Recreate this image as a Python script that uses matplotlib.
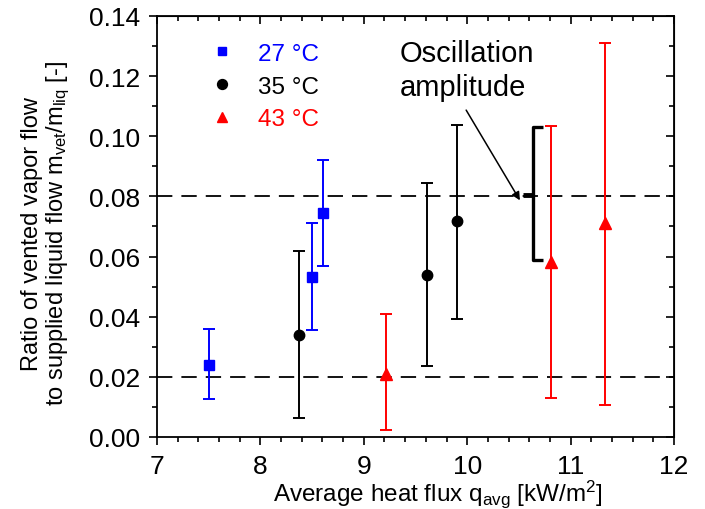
import numpy as np
import matplotlib
matplotlib.use('Agg')
import matplotlib.pyplot as plt
from matplotlib.lines import Line2D

plt.rcParams['font.family'] = ['Liberation Sans', 'DejaVu Sans']
plt.rcParams['mathtext.default'] = 'regular'

# data (value, lower and upper end of error bar)
labels = ['27 \u00b0C', '35 \u00b0C', '43 \u00b0C']
colors = ['#0000ff', '#000000', '#ff0000']
markers = ['s', 'o', '^']

x_27 = [7.50, 8.50, 8.61]
y_27 = [0.0241, 0.0533, 0.0746]
lo_27 = [0.0126, 0.0355, 0.0569]
hi_27 = [0.0360, 0.0710, 0.0922]

x_35 = [8.37, 9.61, 9.90]
y_35 = [0.0340, 0.0539, 0.0717]
lo_35 = [0.0064, 0.0236, 0.0394]
hi_35 = [0.0619, 0.0843, 0.1038]

x_43 = [9.21, 10.81, 11.33]
y_43 = [0.0211, 0.0583, 0.0712]
lo_43 = [0.0022, 0.0131, 0.0108]
hi_43 = [0.0408, 0.1034, 0.1311]

ref_levels = [0.02, 0.08]

# bracket marking the oscillation amplitude of the 10.8 point
bracket_x = 10.64
bracket_lo = 0.059
bracket_hi = 0.103

fig = plt.figure(figsize=(7.05, 5.1), dpi=100)
ax = fig.add_axes([0.2227, 0.1412, 0.7333, 0.8255])

# horizontal dashed reference lines
for lvl in ref_levels:
    ax.axhline(lvl, color='black', lw=1.3, ls=(0, (8.5, 5)), zorder=1)

series = [(x_27, y_27, lo_27, hi_27), (x_35, y_35, lo_35, hi_35), (x_43, y_43, lo_43, hi_43)]
msizes = [6.5, 7.5, 8]
for (xs, ys, lo, hi), c, m, ms in zip(series, colors, markers, msizes):
    ys = np.array(ys)
    yerr = [ys - np.array(lo), np.array(hi) - ys]
    ax.errorbar(xs, ys, yerr=yerr, fmt=m, color=c, ms=ms, elinewidth=1.4,
                capsize=4, capthick=1.4, zorder=3)

# bracket "[" with a nub at 0.08
hook = 0.09
ax.plot([bracket_x + hook, bracket_x, bracket_x, bracket_x + hook],
        [bracket_hi, bracket_hi, bracket_lo, bracket_lo],
        color='black', lw=2.4, solid_joinstyle='round', solid_capstyle='butt', zorder=4)
ax.plot([bracket_x - 0.1, bracket_x], [0.0805, 0.0805], color='black', lw=3.5,
        solid_capstyle='butt', zorder=4)
ax.annotate('', xy=(10.51, 0.0787), xytext=(9.99, 0.1087),
            arrowprops=dict(arrowstyle='-|>', color='black', lw=1.1,
                            mutation_scale=12, shrinkA=0, shrinkB=0))
ax.text(9.345, 0.1325, 'Oscillation\namplitude', fontsize=21, va='top', ha='left',
        linespacing=1.3)

ax.set_xlim(7, 12)
ax.set_ylim(0, 0.14)
ax.set_xticks(np.arange(7, 12.01, 1))
ax.set_yticks(np.arange(0, 0.1401, 0.02))
ax.set_yticklabels(['%.2f' % v for v in np.arange(0, 0.1401, 0.02)])
ax.set_xticks(np.arange(7, 12.01, 0.2), minor=True)
ax.set_yticks(np.arange(0, 0.1401, 0.01), minor=True)
ax.tick_params(which='both', direction='out', labelsize=19, width=1.2)
ax.tick_params(which='major', length=6, pad=6)
ax.tick_params(which='minor', length=3.5)
for s in ax.spines.values():
    s.set_linewidth(1.3)

# mirrored ticks pointing inward on top and right
top = ax.secondary_xaxis('top')
top.set_xticks(np.arange(7, 12.01, 1))
top.set_xticks(np.arange(7, 12.01, 0.2), minor=True)
top.tick_params(which='both', direction='in', labeltop=False, width=1.2)
top.tick_params(which='major', length=6)
top.tick_params(which='minor', length=3.5)
right = ax.secondary_yaxis('right')
right.set_yticks(np.arange(0, 0.1401, 0.02))
right.set_yticks(np.arange(0, 0.1401, 0.01), minor=True)
right.tick_params(which='both', direction='in', labelright=False, width=1.2)
right.tick_params(which='major', length=6)
right.tick_params(which='minor', length=3.5)

ax.set_xlabel('Average heat flux q$_{avg}$ [kW/m$^2$]', fontsize=17.5, labelpad=0)
ax.xaxis.label.set_x(0.543)
ax.set_ylabel('Ratio of vented vapor flow\nto supplied liquid flow m$_{vet}$/m$_{liq}$ [-]',
              fontsize=17, labelpad=12, linespacing=1.1)
ax.yaxis.label.set_y(0.485)

handles = [Line2D([], [], ls='none', marker=m, color=c, ms=ms * 0.95)
           for m, c, ms in zip(markers, colors, msizes)]
leg = ax.legend(handles, labels, loc='upper left', bbox_to_anchor=(0.084, 0.96),
                frameon=False, fontsize=17.5, handlelength=1.0, handletextpad=0.95,
                labelspacing=0.45, borderaxespad=0)
for t, c in zip(leg.get_texts(), colors):
    t.set_color(c)

fig.savefig('out.png', dpi=100)
